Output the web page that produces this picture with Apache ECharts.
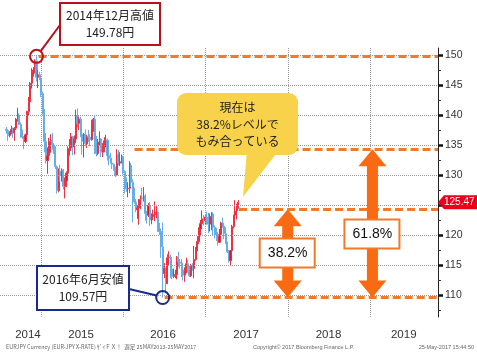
<!DOCTYPE html>
<html>
<head>
<meta charset="utf-8">
<script src="https://cdn.jsdelivr.net/npm/echarts@6/dist/echarts.min.js"></script>
<style>
  html, body { margin: 0; padding: 0; background: #fff; }
  #chart { width: 477px; height: 353px; }
</style>
</head>
<body>
<div id="chart"></div>
<script>
// EUR/JPY 週足
const weeks = [
  '2014-08-01','2014-08-08','2014-08-15','2014-08-22','2014-08-29','2014-09-05','2014-09-12','2014-09-19','2014-09-26',
  '2014-10-03','2014-10-10','2014-10-17','2014-10-24','2014-10-31','2014-11-07','2014-11-14','2014-11-21','2014-11-28',
  '2014-12-05','2014-12-12','2014-12-19','2014-12-26',
  '2015-01-02','2015-01-09','2015-01-16','2015-01-23','2015-01-30','2015-02-06','2015-02-13','2015-02-20','2015-02-27',
  '2015-03-06','2015-03-13','2015-03-20','2015-03-27','2015-04-03','2015-04-10','2015-04-17','2015-04-24',
  '2015-05-01','2015-05-08','2015-05-15','2015-05-22','2015-05-29','2015-06-05','2015-06-12','2015-06-19','2015-06-26',
  '2015-07-03','2015-07-10','2015-07-17','2015-07-24','2015-07-31','2015-08-07','2015-08-14','2015-08-21','2015-08-28',
  '2015-09-04','2015-09-11','2015-09-18','2015-09-25','2015-10-02','2015-10-09','2015-10-16','2015-10-23','2015-10-30',
  '2015-11-06','2015-11-13','2015-11-20','2015-11-27','2015-12-04','2015-12-11','2015-12-18','2015-12-25',
  '2016-01-01','2016-01-08','2016-01-15','2016-01-22','2016-01-29','2016-02-05','2016-02-12','2016-02-19','2016-02-26',
  '2016-03-04','2016-03-11','2016-03-18','2016-03-25','2016-04-01','2016-04-08','2016-04-15','2016-04-22','2016-04-29',
  '2016-05-06','2016-05-13','2016-05-20','2016-05-27','2016-06-03','2016-06-10','2016-06-17','2016-06-24',
  '2016-07-01','2016-07-08','2016-07-15','2016-07-22','2016-07-29','2016-08-05','2016-08-12','2016-08-19','2016-08-26',
  '2016-09-02','2016-09-09','2016-09-16','2016-09-23','2016-09-30','2016-10-07','2016-10-14','2016-10-21','2016-10-28',
  '2016-11-04','2016-11-11','2016-11-18','2016-11-25','2016-12-02','2016-12-09','2016-12-16','2016-12-23','2016-12-30',
  '2017-01-06','2017-01-13','2017-01-20','2017-01-27','2017-02-03','2017-02-10','2017-02-17','2017-02-24',
  '2017-03-03','2017-03-10','2017-03-17','2017-03-24','2017-03-31','2017-04-07','2017-04-14','2017-04-21','2017-04-28',
  '2017-05-05','2017-05-12','2017-05-19','2017-05-26'
]
const opens = [
  137.6,137.4,136.6,137.1,137.6,137.0,137.8,139.3,140.0,
  138.4,137.3,136.3,135.6,136.7,140.6,142.2,145.3,147.2,
  147.5,149.0,146.3,146.7,
  146.0,143.6,140.8,135.6,132.4,133.2,135.6,135.8,135.0,
  134.2,131.4,127.4,130.6,130.0,130.8,128.1,129.0,
  130.3,134.4,134.5,136.4,134.7,136.0,139.8,138.6,139.3,
  136.8,135.6,136.8,135.2,136.4,136.3,135.9,138.9,139.3,
  135.4,133.6,135.5,136.0,133.8,134.3,135.7,135.8,133.2,
  132.8,132.0,131.8,131.3,130.0,133.4,132.0,132.2,
  132.9,130.6,127.8,127.7,127.8,131.6,128.8,126.4,125.5,
  124.2,124.5,125.9,126.2,126.1,126.5,123.6,123.3,124.9,
  122.5,123.1,123.4,123.5,123.8,121.0,120.6,118.0,
  113.6,114.4,111.9,116.2,116.3,114.3,113.1,113.3,113.4,
  116.3,115.5,115.3,114.2,113.3,114.0,115.2,114.3,113.2,
  114.9,114.4,115.9,117.6,118.9,121.0,121.9,122.7,122.4,
  123.0,122.4,121.8,123.1,123.5,121.3,121.0,120.0,
  118.8,120.1,122.0,121.5,120.2,118.8,117.2,115.7,117.4,
  121.4,123.3,124.0,124.7
]
const closes = [
  137.4,136.6,137.1,137.6,137.0,137.8,139.3,140.0,138.4,
  137.3,136.3,135.6,136.7,140.6,142.2,145.3,147.2,147.5,
  149.0,146.3,146.7,146.0,
  143.6,140.8,135.6,132.4,133.2,135.6,135.8,135.0,134.2,
  131.4,127.4,130.6,130.0,130.8,128.1,129.0,130.3,
  134.4,134.5,136.4,134.7,136.0,139.8,138.6,139.3,136.8,
  135.6,136.8,135.2,136.4,136.3,135.9,138.9,139.3,135.4,
  133.6,135.5,136.0,133.8,134.3,135.7,135.8,133.2,132.8,
  132.0,131.8,131.3,130.0,133.4,132.0,132.2,132.9,
  130.6,127.8,127.7,127.8,131.6,128.8,126.4,125.5,124.2,
  124.5,125.9,126.2,126.1,126.5,123.6,123.3,124.9,122.5,
  123.1,123.4,123.5,123.8,121.0,120.6,118.0,113.6,
  114.4,111.9,116.2,116.3,114.3,113.1,113.3,113.4,116.3,
  115.5,115.3,114.2,113.3,114.0,115.2,114.3,113.2,114.9,
  114.4,115.9,117.6,118.9,121.0,121.9,122.7,122.4,123.0,
  122.4,121.8,123.1,123.5,121.3,121.0,120.0,118.8,
  120.1,122.0,121.5,120.2,118.8,117.2,115.7,117.4,121.4,
  123.3,124.0,124.7,125.47
]
const lows = [
  136.9,135.7,136.3,136.8,136.2,135.7,137.5,138.9,138.3,
  136.2,136.0,134.3,135.3,136.1,140.0,141.6,144.4,146.4,
  146.9,145.6,144.5,145.8,
  143.0,140.1,133.8,131.9,130.2,132.9,133.7,134.2,133.5,
  131.0,126.9,127.1,128.9,128.9,127.6,126.1,128.0,
  130.0,133.2,134.0,133.3,133.4,135.3,137.9,137.5,136.3,
  133.4,132.9,134.8,134.5,135.5,134.8,135.7,137.2,133.5,
  133.1,133.3,134.9,133.0,133.0,133.8,134.6,132.4,131.6,
  131.9,131.0,130.7,129.7,129.8,131.6,131.5,131.9,
  130.1,126.9,127.2,126.3,127.0,128.0,122.1,125.2,123.8,
  122.7,121.7,124.3,125.8,125.6,122.4,121.9,123.0,121.5,
  121.8,122.8,122.3,122.8,120.5,120.0,116.2,109.57,
  112.8,110.5,111.8,115.0,112.8,112.6,112.8,112.8,112.6,
  114.7,114.4,113.0,112.4,112.2,113.6,113.7,113.0,113.0,
  114.0,112.8,115.7,117.3,118.5,119.8,121.3,121.6,121.8,
  121.7,120.3,120.6,120.8,119.9,119.4,119.0,118.2,
  118.7,119.8,121.2,119.3,118.5,117.0,115.4,114.8,117.2,
  121.1,123.0,122.6,124.4
]
const highs = [
  138.0,137.6,137.3,138.2,137.9,138.0,139.5,141.2,140.3,
  138.8,137.6,136.5,136.9,140.7,143.0,145.5,147.8,148.0,
  149.3,149.78,147.5,147.2,
  146.2,143.9,141.0,137.0,134.6,136.2,136.8,137.0,135.3,
  134.8,131.6,131.1,131.7,131.1,131.0,129.6,130.6,
  134.8,136.0,137.0,136.5,136.6,140.9,141.1,139.7,139.7,
  137.0,137.0,137.6,136.7,137.5,136.8,139.2,139.5,140.0,
  136.5,136.0,137.3,136.1,135.3,136.3,136.7,136.1,133.4,
  133.7,132.5,131.9,131.4,134.3,134.2,133.8,133.4,
  133.2,130.8,129.6,128.8,132.3,132.0,129.3,127.9,126.0,
  125.0,126.0,126.6,127.9,128.0,126.8,124.0,125.3,125.5,
  123.6,124.2,125.6,124.8,124.0,122.0,120.9,122.1,
  115.3,114.5,116.8,117.3,116.7,114.7,114.4,114.2,116.5,
  117.2,116.0,116.0,114.9,114.6,116.2,115.8,114.9,115.2,
  115.3,118.2,118.0,119.8,121.3,122.5,124.1,123.3,123.3,
  123.9,123.7,123.6,123.8,123.8,121.6,121.2,120.5,
  121.0,122.2,122.9,121.7,121.3,118.9,117.5,117.5,121.7,
  123.4,125.8,125.2,125.8
]

const yTicks = [110, 115, 120, 125, 130, 135, 140, 145, 150]
const yMinorTicks = [107.5, 112.5, 117.5, 122.5, 127.5, 132.5, 137.5, 142.5, 147.5]
const yearStarts = ['2015-01-01', '2016-01-01', '2017-01-01', '2018-01-01', '2019-01-01']
const yearLabelDates = ['2014-11-04', '2015-06-28', '2016-06-26', '2017-06-29', '2018-06-30', '2019-05-30']

// フィボナッチ水準（高値・61.8%・38.2%・安値）
const levels = [149.78, 134.3, 124.3, 109.57]
const levelStarts = ['2014-12-21', '2016-02-20', '2017-05-29', '2016-07-03']
const arrowDates = ['2017-12-31', '2019-01-11']
const arrowLabels = ['38.2%', '61.8%']

const xMin = '2014-07-03'
const xMax = '2019-10-29'
const yMin = 106.33
const yMax = 151.17

const ts = s => new Date(s + 'T00:00:00').getTime()

const ORANGE_LINE = '#f07a2a'
const ORANGE = '#fa6a12'
const JP = "'Noto Sans CJK JP', sans-serif"

const candles = weeks.map((w, i) => [ts(w), opens[i], closes[i], lows[i], highs[i]])
const peakHigh = Math.max(...highs)
const peakDate = weeks[highs.indexOf(peakHigh)]
const bottomLow = Math.min(...lows)
const bottomDate = weeks[lows.indexOf(bottomLow)]

const chart = echarts.init(document.getElementById('chart'))

chart.setOption({
  animation: false,
  grid: { left: 0, right: 39, top: 48, bottom: 36 },
  xAxis: {
    type: 'value',
    min: ts(xMin),
    max: ts(xMax),
    axisLine: { show: false },
    axisTick: { show: false },
    splitLine: { show: false },
    axisLabel: {
      customValues: yearLabelDates.map(ts),
      formatter: v => String(new Date(v).getFullYear()),
      color: '#333',
      fontSize: 11.5,
      fontFamily: 'Liberation Sans',
      margin: 12
    }
  },
  yAxis: [{
    type: 'value',
    position: 'right',
    min: yMin,
    max: yMax,
    axisLine: { show: true, lineStyle: { color: '#222', width: 1 } },
    axisTick: { show: true, customValues: yTicks, length: 5, lineStyle: { color: '#111', width: 2.5 } },
    axisLabel: { customValues: yTicks, color: '#333', fontSize: 10.5, fontFamily: 'Liberation Sans', margin: 7 },
    splitLine: { show: false }
  }, {
    type: 'value',
    position: 'right',
    min: yMin,
    max: yMax,
    axisLine: { show: false },
    axisTick: { show: true, customValues: yMinorTicks, length: 3, lineStyle: { color: '#333', width: 1 } },
    axisLabel: { show: false },
    splitLine: { show: false }
  }],
  series: [{
    // グリッド（点線）
    type: 'line',
    data: [],
    z: 1,
    markLine: {
      silent: true,
      symbol: ['none', 'none'],
      animation: false,
      label: { show: false },
      lineStyle: { type: 'dotted', color: '#9a9a9a', width: 1 },
      data: yTicks.map(v => ({ yAxis: v })).concat(yearStarts.map(d => ({ xAxis: ts(d) })))
    }
  }, {
    type: 'candlestick',
    data: candles,
    barWidth: 1.6,
    z: 3,
    itemStyle: {
      color: '#ee0a1a',
      color0: '#4f9fe6',
      borderColor: '#f0303e',
      borderColor0: '#66aeea',
      borderWidth: 1
    },
    markPoint: {
      silent: true,
      symbol: 'circle',
      symbolSize: 13,
      label: { show: false },
      data: [
        { coord: [ts(peakDate), peakHigh], itemStyle: { color: 'rgba(0,0,0,0)', borderColor: '#c0101c', borderWidth: 2 } },
        { coord: [ts(bottomDate), bottomLow], itemStyle: { color: 'rgba(0,0,0,0)', borderColor: '#1a2a8c', borderWidth: 2 } }
      ]
    }
  }, {
    // 水準ライン（オレンジ破線）
    type: 'line',
    data: [],
    z: 4,
    markLine: {
      silent: true,
      symbol: ['none', 'none'],
      animation: false,
      label: { show: false },
      lineStyle: { type: [8, 4], color: ORANGE_LINE, width: 3 },
      data: levels.map((v, i) => [{ coord: [ts(levelStarts[i]), v] }, { coord: [ts(xMax), v] }])
    }
  }]
})

const px = (d, v) => chart.convertToPixel({ gridIndex: 0 }, [ts(d), v])

function arrowShape(x, yTop, yBot) {
  const hw = 14, hh = 17, sw = 5.5
  return [
    [x, yTop], [x + hw, yTop + hh], [x + sw, yTop + hh], [x + sw, yBot - hh], [x + hw, yBot - hh],
    [x, yBot], [x - hw, yBot - hh], [x - sw, yBot - hh], [x - sw, yTop + hh], [x - hw, yTop + hh]
  ]
}

const peakPt = px(peakDate, peakHigh)
const lowPt = px(bottomDate, bottomLow)
const yLow = px(xMin, levels[3])[1]
const a1x = px(arrowDates[0], 120)[0]
const a2x = px(arrowDates[1], 120)[0]
const y382 = px(xMin, levels[2])[1]
const y618 = px(xMin, levels[1])[1]
const lastClose = closes[closes.length - 1]
const tagY = px(xMin, lastClose)[1]
const axisX = 477 - 39

const graphics = [
  // 高値の吹き出し
  { type: 'line', z: 100, shape: { x1: peakPt[0] + 4, y1: peakPt[1] - 5, x2: 60, y2: 25 }, style: { stroke: '#b8101e', lineWidth: 2 } },
  { type: 'rect', z: 100, shape: { x: 60, y: 3, width: 100, height: 42 }, style: { fill: '#fff', stroke: '#b8101e', lineWidth: 2 } },
  { type: 'text', z: 101, style: { text: '2014年12月高値\n149.78円', x: 110, y: 24, align: 'center', verticalAlign: 'middle', font: '12px ' + JP, lineHeight: 17, fill: '#222' } },
  // 安値の吹き出し
  { type: 'line', z: 100, shape: { x1: 129, y1: 289, x2: lowPt[0] - 6, y2: lowPt[1] - 2 }, style: { stroke: '#1a2a8c', lineWidth: 2 } },
  { type: 'rect', z: 100, shape: { x: 37, y: 266, width: 92, height: 44 }, style: { fill: '#fff', stroke: '#1a2a8c', lineWidth: 2 } },
  { type: 'text', z: 101, style: { text: '2016年6月安値\n109.57円', x: 83, y: 288, align: 'center', verticalAlign: 'middle', font: '12px ' + JP, lineHeight: 17, fill: '#222' } },
  // 黄色の吹き出し
  { type: 'polygon', z: 100, shape: { points: [[247, 150], [279, 150], [243, 197]] }, style: { fill: '#f7d24a' } },
  { type: 'rect', z: 100, shape: { x: 177, y: 93, width: 121, height: 62, r: 9 }, style: { fill: '#f7d24a' } },
  { type: 'text', z: 101, style: { text: '現在は\n38.2%レベルで\nもみ合っている', x: 237.5, y: 124, align: 'center', verticalAlign: 'middle', font: '12px ' + JP, lineHeight: 17, fill: '#222' } },
  // 矢印
  { type: 'polygon', z: 100, shape: { points: arrowShape(a1x, y382, yLow) }, style: { fill: ORANGE } },
  { type: 'polygon', z: 100, shape: { points: arrowShape(a2x, y618, yLow) }, style: { fill: ORANGE } },
  { type: 'rect', z: 101, shape: { x: a1x - 28, y: (y382 + yLow) / 2 - 15, width: 55, height: 29 }, style: { fill: '#fff', stroke: ORANGE_LINE, lineWidth: 2 } },
  { type: 'text', z: 102, style: { text: arrowLabels[0], x: a1x, y: (y382 + yLow) / 2, align: 'center', verticalAlign: 'middle', font: '14px Liberation Sans', fill: '#111' } },
  { type: 'rect', z: 101, shape: { x: a2x - 28, y: (y618 + yLow) / 2 - 4, width: 55, height: 29 }, style: { fill: '#fff', stroke: ORANGE_LINE, lineWidth: 2 } },
  { type: 'text', z: 102, style: { text: arrowLabels[1], x: a2x, y: (y618 + yLow) / 2 + 10.5, align: 'center', verticalAlign: 'middle', font: '14px Liberation Sans', fill: '#111' } },
  // 現在値タグ
  { type: 'polygon', z: 100, shape: { points: [[axisX, tagY], [axisX + 6, tagY - 7], [477, tagY - 7], [477, tagY + 7], [axisX + 6, tagY + 7]] }, style: { fill: '#e8001c' } },
  { type: 'text', z: 101, style: { text: lastClose.toFixed(2), x: axisX + 6, y: tagY, align: 'left', verticalAlign: 'middle', font: '10px Liberation Sans', fill: '#fff' } },
  // フッター
  { type: 'text', z: 101, style: { text: 'EURJPY Currency (EUR-JPY X-RATE) ｻﾞｲＦＸ！  週足 25MAY2013-25MAY2017', x: 6, y: 347, align: 'left', verticalAlign: 'middle', font: '5.5px ' + JP, fill: '#666' } },
  { type: 'text', z: 101, style: { text: 'Copyright© 2017 Bloomberg Finance L.P.', x: 253, y: 347, align: 'left', verticalAlign: 'middle', font: '5.5px Liberation Sans', fill: '#666' } },
  { type: 'text', z: 101, style: { text: '25-May-2017 15:44:50', x: 474, y: 347, align: 'right', verticalAlign: 'middle', font: '5.5px Liberation Sans', fill: '#666' } }
]

chart.setOption({ graphic: graphics })
</script>
</body>
</html>
